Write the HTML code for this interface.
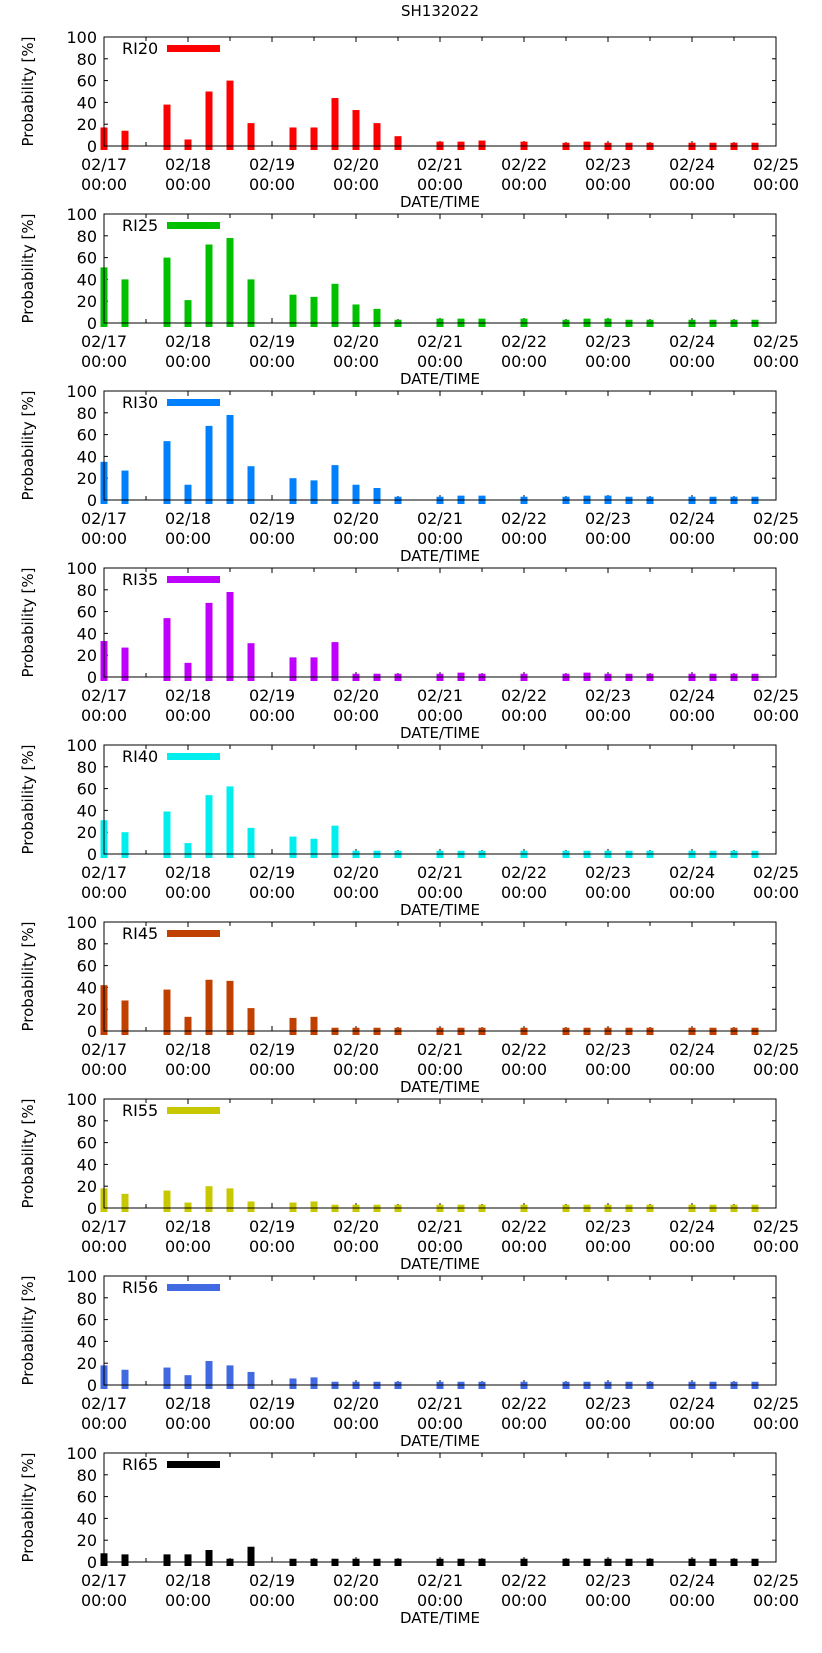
<!DOCTYPE html>
<html><head><meta charset="utf-8"><style>
html,body{margin:0;padding:0;background:#fff;}
svg{display:block;font-family:"DejaVu Sans","Liberation Sans",sans-serif;}
</style></head><body>
<svg id="chart" width="822" height="1653" viewBox="0 0 822 1653">
<text x="440" y="16" text-anchor="middle" font-size="15">SH132022</text>
</svg>
<script>
const seriesNames = ["RI20","RI25","RI30","RI35","RI40","RI45","RI55","RI56","RI65"];
const seriesColors = ["#ff0000","#00c000","#0080ff","#c000ff","#00eeee","#c04000","#c8c800","#4169e1","#000000"];
const dayLabels = ["02/17","02/18","02/19","02/20","02/21","02/22","02/23","02/24","02/25"];
const yTicks = [0,20,40,60,80,100];
// 6-hour slots starting 02/17 00:00; null = no bar
const ri20 = [17,14,null,38,6,50,60,21,null,17,17,44,33,21,9,null,4,4,5,null,4,null,3,4,3,3,3,null,3,3,3,3];
const ri25 = [51,40,null,60,21,72,78,40,null,26,24,36,17,13,3,null,4,4,4,null,4,null,3,4,4,3,3,null,3,3,3,3];
const ri30 = [35,27,null,54,14,68,78,31,null,20,18,32,14,11,3,null,3,4,4,null,3,null,3,4,4,3,3,null,3,3,3,3];
const ri35 = [33,27,null,54,13,68,78,31,null,18,18,32,3,3,3,null,3,4,3,null,3,null,3,4,3,3,3,null,3,3,3,3];
const ri40 = [31,20,null,39,10,54,62,24,null,16,14,26,3,3,3,null,3,3,3,null,3,null,3,3,3,3,3,null,3,3,3,3];
const ri45 = [42,28,null,38,13,47,46,21,null,12,13,3,3,3,3,null,3,3,3,null,3,null,3,3,3,3,3,null,3,3,3,3];
const ri55 = [18,13,null,16,5,20,18,6,null,5,6,3,3,3,3,null,3,3,3,null,3,null,3,3,3,3,3,null,3,3,3,3];
const ri56 = [18,14,null,16,9,22,18,12,null,6,7,3,3,3,3,null,3,3,3,null,3,null,3,3,3,3,3,null,3,3,3,3];
const ri65 = [8,7,null,7,7,11,3,14,null,3,3,3,3,3,3,null,3,3,3,null,3,null,3,3,3,3,3,null,3,3,3,3];
const allSeries = [ri20,ri25,ri30,ri35,ri40,ri45,ri55,ri56,ri65];

const NS="http://www.w3.org/2000/svg";
const svg=document.getElementById('chart');
const X0=104, X1=776, PER_DAY=84, PLOT_H=109;
function mk(tag, attrs, parent){const e=document.createElementNS(NS,tag);for(const k in attrs)e.setAttribute(k,attrs[k]);(parent||svg).appendChild(e);return e;}
function xScale(slot){return X0+slot*PER_DAY/4;}

allSeries.forEach((vals,p)=>{
  const top=37+177*p, axisY=top+PLOT_H;
  const yScale=v=>axisY-v*PLOT_H/100;
  const g=mk('g',{});
  
  
  // y ticks
  yTicks.forEach(t=>{
    const y=yScale(t);
    mk('line',{x1:X0,x2:X0+4,y1:y,y2:y,stroke:'#000'},g);
    mk('line',{x1:X1,x2:X1-4,y1:y,y2:y,stroke:'#000'},g);
    const tl=mk('text',{x:97,y:y+6,'text-anchor':'end','font-size':16},g);
    tl.textContent=t;
    
    
  });
  // x ticks every 12h
  for(let h=0;h<=16;h++){
    const x=X0+h*PER_DAY/2;
    const len=h%2===0?5:4;
    mk('line',{x1:x,x2:x,y1:axisY,y2:axisY-len,stroke:'#000'},g);
    mk('line',{x1:x,x2:x,y1:top,y2:top+len,stroke:'#000'},g);
  }
  // bars
  vals.forEach((v,i)=>{
    if(v===null)return;
    const cx=xScale(i);
    const r=mk('rect',{x:cx-3.5,y:yScale(v),width:7,height:axisY+4-yScale(v),fill:seriesColors[p]},g);
    
    
  });
  // frame
  const fr=mk('rect',{x:X0,y:top,width:X1-X0,height:PLOT_H,fill:'none',stroke:'#000','stroke-width':1},g);
  
  
  dayLabels.forEach((d,i)=>{
    const x=X0+i*PER_DAY;
    const a=mk('text',{x:x,y:axisY+24,'text-anchor':'middle','font-size':16},g);
    a.textContent=d;
    
    
    const b=mk('text',{x:x,y:axisY+44,'text-anchor':'middle','font-size':16},g);
    b.textContent='00:00';
    
    
  });
  const xt=mk('text',{x:440,y:axisY+61,'text-anchor':'middle','font-size':15},g);
  xt.textContent='DATE/TIME';
  
  
  const cy=top+PLOT_H/2;
  const yt=mk('text',{x:0,y:0,'text-anchor':'middle','font-size':15,transform:`translate(33,${cy}) rotate(-90)`},g);
  yt.textContent='Probability [%]';
  
  
  // legend
  const lt=mk('text',{x:122,y:top+17,'font-size':16},g);
  lt.textContent=seriesNames[p];
  
  
  const ll=mk('rect',{x:167,y:top+8,width:53,height:7,fill:seriesColors[p]},g);
  
  
});
</script>
</body></html>
